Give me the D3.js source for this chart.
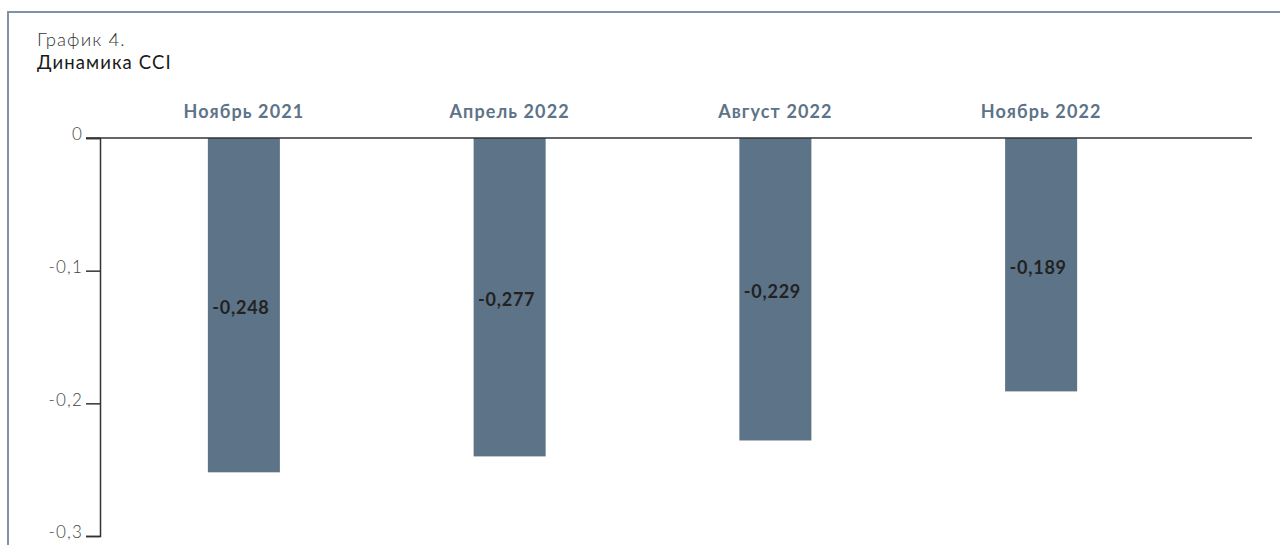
<!DOCTYPE html>
<html><head><meta charset="utf-8">
<script src="https://cdn.jsdelivr.net/npm/d3@7"></script>
<style>
html,body{margin:0;padding:0;background:#fff;}
svg{display:block;}
</style></head>
<body>
<svg id="chart" width="1280" height="545"></svg>
<script>
const categories = ["Ноябрь 2021", "Апрель 2022", "Август 2022", "Ноябрь 2022"];
const values = [-0.252, -0.240, -0.228, -0.191];
const valueLabels = ["-0,248", "-0,277", "-0,229", "-0,189"];
const yTicks = [0, -0.1, -0.2, -0.3];
const yTickLabels = ["0", "-0,1", "-0,2", "-0,3"];

const svg = d3.select("#chart");
const font = "Lato, 'Open Sans', sans-serif";

// frame
svg.append("line").attr("x1", 8).attr("x2", 1280).attr("y1", 12).attr("y2", 12)
  .attr("stroke", "#7f93a5").attr("stroke-width", 2);
svg.append("line").attr("x1", 8).attr("x2", 8).attr("y1", 11).attr("y2", 545)
  .attr("stroke", "#7f93a5").attr("stroke-width", 2);

// titles
svg.append("text").attr("x", 37).attr("y", 46).text("График 4.")
  .attr("font-family", font).attr("font-weight", 300).attr("font-size", 18.5)
  .attr("letter-spacing", 1.1).attr("fill", "#333");
svg.append("text").attr("x", 37).attr("y", 69).text("Динамика CCI")
  .attr("font-family", font).attr("font-weight", 400).attr("font-size", 18.5)
  .attr("letter-spacing", 1.1).attr("fill", "#1a1a1a");

const x = d3.scaleBand().domain(categories).range([111, 1174])
  .paddingInner(0.729).paddingOuter(0.3645);
const y = d3.scaleLinear().domain([0, -0.3]).range([138, 536]);

// bars
svg.append("g").selectAll("rect").data(values).join("rect")
  .attr("x", (d, i) => x(categories[i]))
  .attr("width", x.bandwidth())
  .attr("y", y(0))
  .attr("height", d => y(d) - y(0))
  .attr("fill", "#5d7387");

// zero line
svg.append("line").attr("x1", 86).attr("x2", 1252).attr("y1", y(0)).attr("y2", y(0))
  .attr("stroke", "#333").attr("stroke-width", 1.5);

// y axis
const yAxis = d3.axisLeft(y).tickValues(yTicks).tickSize(14).tickPadding(3)
  .tickFormat((d, i) => yTickLabels[i]);
const gy = svg.append("g").attr("transform", "translate(100,0)").call(yAxis);
gy.select(".domain").attr("stroke", "#333").attr("stroke-width", 1.5);
gy.selectAll(".tick line").attr("stroke", "#333").attr("stroke-width", 1.5);
gy.selectAll(".tick text").attr("font-family", font).attr("font-weight", 300)
  .attr("font-size", 17).attr("letter-spacing", 1.2).attr("fill", "#444").attr("dy", "0.1em");

// category labels
svg.append("g").selectAll("text").data(categories).join("text")
  .attr("x", d => x(d) + x.bandwidth() / 2)
  .attr("y", 118)
  .attr("text-anchor", "middle")
  .attr("font-family", font).attr("font-weight", 700).attr("font-size", 18)
  .attr("letter-spacing", 1.1)
  .attr("fill", "#5d7387")
  .text(d => d);

// value labels
svg.append("g").selectAll("text").data(values).join("text")
  .attr("x", (d, i) => x(categories[i]) + x.bandwidth() / 2 - 3)
  .attr("y", d => y(d / 2) + 9)
  .attr("text-anchor", "middle")
  .attr("font-family", font).attr("font-weight", 700).attr("font-size", 18)
  .attr("letter-spacing", 0.8)
  .attr("fill", "#222")
  .text((d, i) => valueLabels[i]);
</script>
</body></html>
